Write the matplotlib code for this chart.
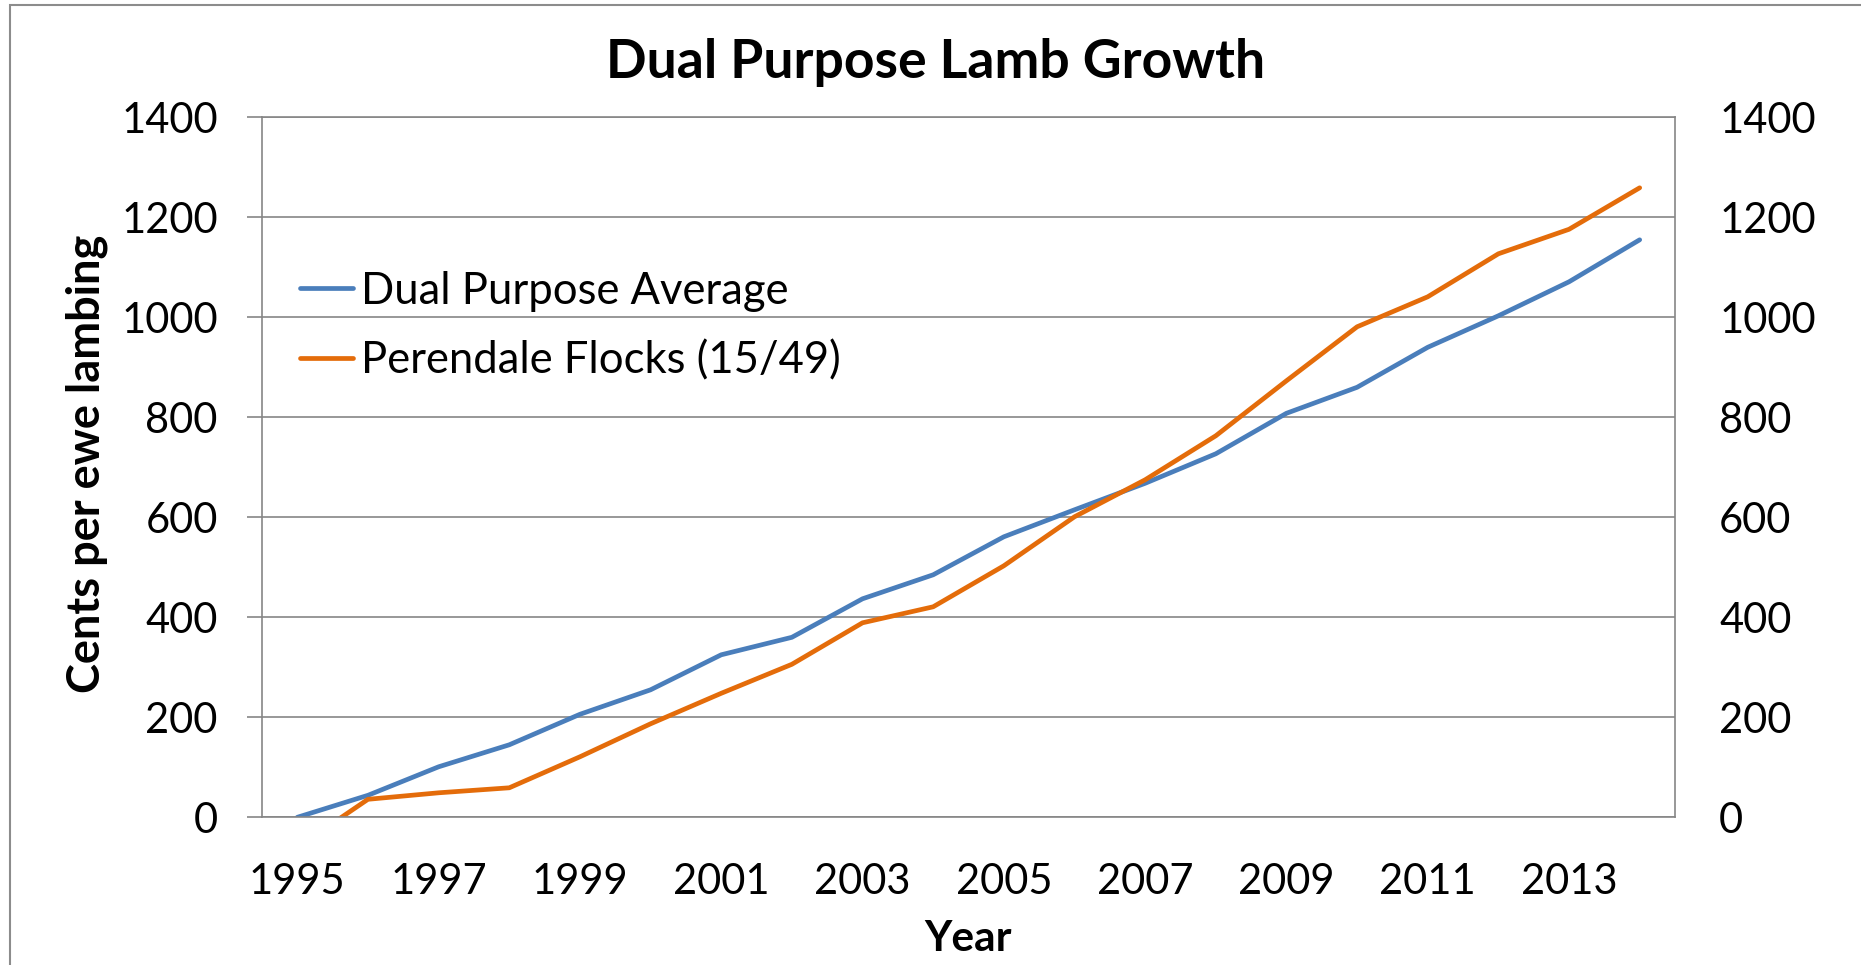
import matplotlib
matplotlib.use("Agg")
import matplotlib.pyplot as plt
from matplotlib.patches import Rectangle

# data
years = list(range(1995, 2015))
dual_purpose_avg = [0, 44, 101, 145, 206, 255, 325, 360, 437, 485,
                    561, 615, 668, 727, 808, 860, 940, 1003, 1071, 1155]
perendale_flocks = [-60, 36, 49, 59, 121, 187, 248, 306, 389, 421,
                    503, 601, 675, 763, 873, 981, 1041, 1127, 1176, 1259]
series_names = ["Dual Purpose Average", "Perendale Flocks (15/49)"]
year_ticks = list(range(1995, 2014, 2))
y_ticks = list(range(0, 1401, 200))

plt.rcParams["font.family"] = ["Lato", "DejaVu Sans"]

W, H = 1861, 965
fig = plt.figure(figsize=(W / 100, H / 100), dpi=100)
ax = fig.add_axes([262 / W, 1 - 817.3 / H, 1413 / W, 700 / H])

grey = "#868686"
ax.plot(years, dual_purpose_avg, color="#4A7EBB", lw=3.4, label=series_names[0],
        solid_capstyle="round", solid_joinstyle="round")
ax.plot(years, perendale_flocks, color="#E46C0A", lw=3.4, label=series_names[1],
        solid_capstyle="round", solid_joinstyle="round")

ax.set_xlim(1994.5, 2014.5)
ax.set_ylim(0, 1400)
ax.set_xticks(year_ticks)
ax.set_yticks(y_ticks)
ax.yaxis.grid(True, color=grey, lw=1.2)
ax.set_axisbelow(True)
for s in ax.spines.values():
    s.set_color(grey)
    s.set_linewidth(1.2)

ax.tick_params(axis="x", length=0, pad=33, labelsize=30)
ax.tick_params(axis="y", length=10.8, width=1.2, color=grey, direction="out",
               pad=21, labelsize=30, right=False, labelright=True)

ax.set_title("Dual Purpose Lamb Growth", fontsize=38.5, fontweight="bold",
             x=0.477, y=1.066, va="center")
ax.set_xlabel("Year", fontsize=30.5, fontweight="bold", va="center")
ax.xaxis.set_label_coords(0.5, -0.174)
ax.set_ylabel("Cents per ewe lambing", fontsize=32.5, fontweight="bold", va="center")
ax.yaxis.set_label_coords(-0.124, 0.505)

ax.legend(loc="upper left", bbox_to_anchor=(0.0269, 0.781), frameon=False,
          fontsize=31.4, handlelength=1.22, handletextpad=0.17,
          labelspacing=0.66, borderpad=0, borderaxespad=0)

# chart outline (only top and left edges are inside the picture)
fig.patches.append(Rectangle((10 / W, -0.5), 2, 0.5 + 1 - 5 / H,
                             transform=fig.transFigure, fill=False,
                             edgecolor="#8c8c8c", lw=1.5))

fig.savefig("out.png", dpi=100)
